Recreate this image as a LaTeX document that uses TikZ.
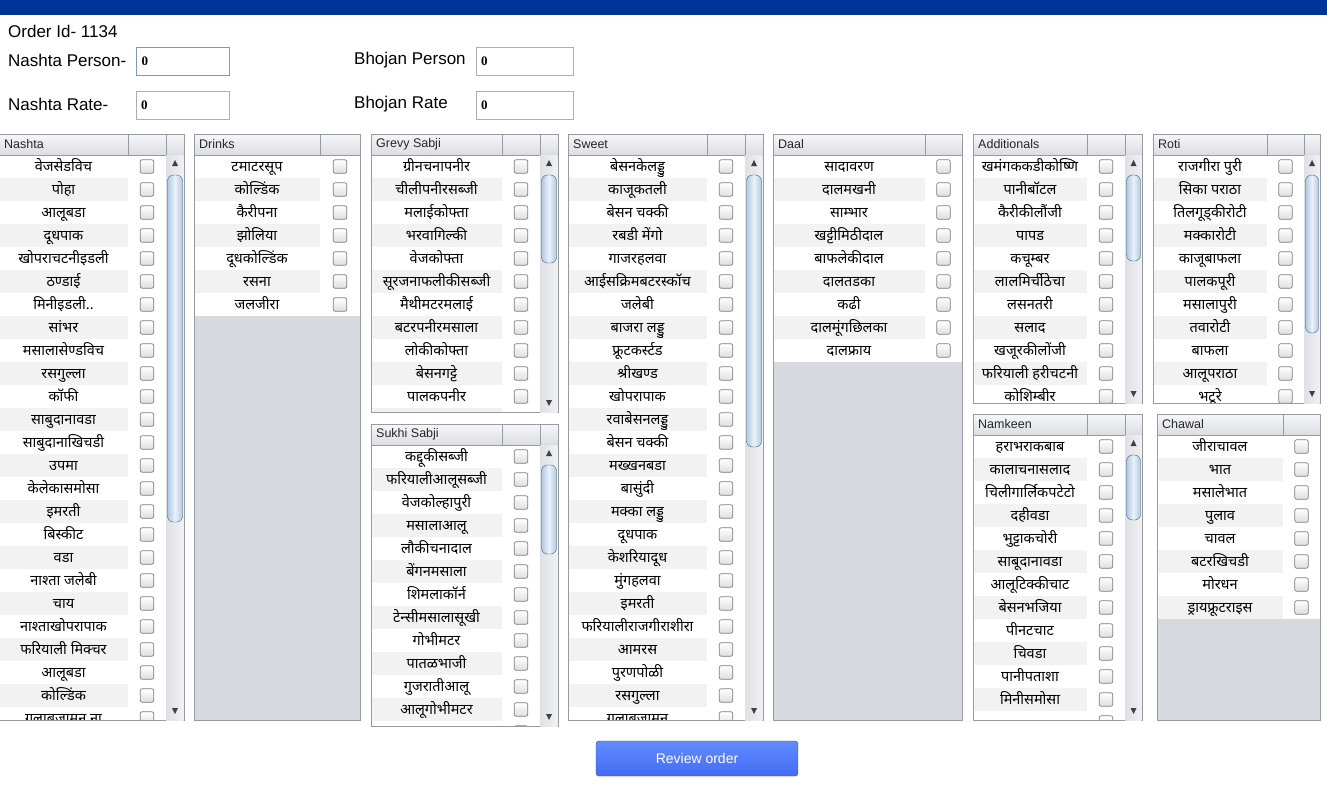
\documentclass[tikz,border=0pt]{standalone}
\usepackage{fontspec}
\setmainfont{Liberation Sans}
\newfontfamily\deva[Script=Devanagari]{Noto Sans}
\newfontfamily\fieldfont{Liberation Serif}
\definecolor{topbar}{RGB}{0,51,153}
\definecolor{panelbg}{RGB}{214,217,223}
\definecolor{stripe}{RGB}{242,242,242}
\definecolor{rulegray}{RGB}{150,155,162}
\definecolor{headA}{RGB}{246,247,249}
\definecolor{headB}{RGB}{219,221,227}
\definecolor{boxline}{RGB}{125,125,125}
\definecolor{boxfill}{RGB}{222,222,222}
\definecolor{trackA}{RGB}{222,224,229}
\definecolor{trackB}{RGB}{240,241,243}
\definecolor{thumbA}{RGB}{176,201,228}
\definecolor{thumbline}{RGB}{70,95,125}
\definecolor{fieldline}{RGB}{170,176,184}
\definecolor{focusline}{RGB}{122,154,196}
\definecolor{buttonA}{RGB}{98,138,255}
\definecolor{buttonB}{RGB}{68,108,245}
\tikzset{
  dish/.style={font=\deva\fontsize{14.5}{14.5}\selectfont, inner sep=0pt, anchor=base},
  tick/.style={draw=boxline, line width=0.7pt, rounded corners=2pt, minimum size=13.5pt, inner sep=0pt, top color=white, bottom color=boxfill},
  header/.style={top color=headA, bottom color=headB},
  rule/.style={draw=rulegray, line width=0.8pt},
  headtext/.style={font=\fontsize{12.5}{12.5}\selectfont, text=black!85, inner sep=0pt, anchor=west},
  formlabel/.style={font=\fontsize{17}{17}\selectfont, inner sep=0pt, anchor=west},
  field/.style={draw=fieldline, fill=white, minimum height=28pt, text width=83pt, inner sep=5pt, align=left, font=\fieldfont\bfseries\fontsize{13}{13}\selectfont, anchor=north west},
  thumb/.style={draw=thumbline, rounded corners=6pt, left color=thumbA, right color=thumbA, middle color=white!75!thumbA},
  button/.style={draw=buttonB!70!black, rounded corners=3pt, minimum width=202pt, minimum height=35pt, top color=buttonA, bottom color=buttonB, text=white, font=\fontsize{14}{14}\selectfont}
}
% #1 name, #2 title, #3 left, #4 text col, #5 check col, #6 right, #7 top, #8 bottom, #9 dishes
\newcommand{\foodpanel}[9]{
  \fill[panelbg] (#3,#7) rectangle (#6,#8);
  \begin{scope}
    \clip (#3,#7) rectangle (#6,#8);
    \foreach \dishname [count=\i] in {#9}{
      \pgfmathsetmacro{\ytop}{#7+21+(\i-1)*23}
      \fill[white] (#3,\ytop) rectangle (#5,\ytop+23);
      \ifodd\i\else\fill[stripe] (#3,\ytop) rectangle (#4,\ytop+23);\fi
      \if\relax\detokenize\expandafter{\dishname}\relax\else
        \node[dish] (#1-\i) at ({(#3+#4)/2},\ytop+16.5) {\dishname};
      \fi
      \node[tick] (#1-box\i) at ({(#4+#5)/2},\ytop+11.5) {};
    }
  \end{scope}
  \shade[header] (#3,#7) rectangle (#6,#7+21);
  \draw[rule] (#3,#7+21) -- (#6,#7+21) (#4,#7) -- (#4,#7+21) (#5,#7) -- (#5,#7+21);
  \node[headtext] (#1-title) at (#3+5,#7+10.5) {#2};
  \draw[rule] (#3,#7) rectangle (#6,#8);
}
% #1 left, #2 right, #3 top, #4 bottom, #5 thumb end
\newcommand{\scrollbar}[5]{
  \shade[left color=trackA, right color=trackB] (#1,#3) rectangle (#2-0.5,#4);
  \draw[thumb] (#1+1.5,#3+20) rectangle (#2-1.5,#5);
  \fill[black!75] ({(#1+#2)/2-3},#3+11) -- ({(#1+#2)/2+3},#3+11) -- ({(#1+#2)/2},#3+5) -- cycle;
  \fill[black!75] ({(#1+#2)/2-3},#4-12) -- ({(#1+#2)/2+3},#4-12) -- ({(#1+#2)/2},#4-6) -- cycle;
}
\begin{document}
\begin{tikzpicture}[x=1pt,y=-1pt]
\useasboundingbox (0,0) rectangle (1327,806);
\fill[white] (0,0) rectangle (1327,806);
\fill[topbar] (0,0) rectangle (1327,15);

\node[formlabel] (orderid) at (8,31) {Order Id- 1134};
\node[formlabel] (nashtaperson) at (8,60) {Nashta Person-};
\node[formlabel] (nashtarate) at (8,104) {Nashta Rate-};
\node[formlabel] (bhojanperson) at (354,60) {Bhojan Person};
\node[formlabel] (bhojanrate) at (354,104) {Bhojan Rate};
\node[field, draw=focusline, line width=1.2pt] (nashtapersonbox) at (136,47) {0};
\node[field] (nashtaratebox) at (136,91) {0};
\node[field, text width=87pt] (bhojanpersonbox) at (476,47) {0};
\node[field, text width=87pt] (bhojanratebox) at (476,91) {0};

\foodpanel{nashta}{Nashta}{-1}{128}{166}{184}{134}{720}{वेजसेडविच, पोहा, आलूबडा, दूधपाक, खोपराचटनीइडली, ठण्डाई, {मिनीइडली..}, सांभर, मसालासेण्डविच, रसगुल्ला, कॉफी, साबुदानावडा, साबुदानाखिचडी, उपमा, केलेकासमोसा, इमरती, बिस्कीट, वडा, नाश्ता जलेबी, चाय, नाश्ताखोपरापाक, फरियाली मिक्चर, आलूबडा, कोल्डिंक, गुलाबजामुन ना}
\scrollbar{166}{184}{155}{720}{522}

\foodpanel{drinks}{Drinks}{194}{320}{360}{360}{134}{720}{टमाटरसूप, कोल्डिंक, कैरीपना, झोलिया, दूधकोल्डिंक, रसना, जलजीरा}

\foodpanel{grevy}{Grevy Sabji}{371}{502}{540}{558}{134}{412}{ग्रीनचनापनीर, चीलीपनीरसब्जी, मलाईकोफ्ता, भरवागिल्की, वेजकोफ्ता, सूरजनाफलीकीसब्जी, मैथीमटरमलाई, बटरपनीरमसाला, लोकीकोफ्ता, बेसनगट्टे, पालकपनीर, {}}
\scrollbar{540}{558}{155}{412}{263}

\foodpanel{sukhi}{Sukhi Sabji}{371}{502}{540}{558}{424}{726}{कद्दूकीसब्जी, फरियालीआलूसब्जी, वेजकोल्हापुरी, मसालाआलू, लौकीचनादाल, बेंगनमसाला, शिमलाकॉर्न, टेन्सीमसालासूखी, गोभीमटर, पातळभाजी, गुजरातीआलू, आलूगोभीमटर, {}}
\scrollbar{540}{558}{445}{726}{554}

\foodpanel{sweet}{Sweet}{568}{707}{745}{763}{134}{720}{बेसनकेलड्डु, काजूकतली, बेसन चक्की, रबडी मेंगो, गाजरहलवा, आईसक्रिमबटरस्कॉच, जलेबी, बाजरा लड्डु, फ्रूटकर्स्टड, श्रीखण्ड, खोपरापाक, रवाबेसनलड्डु, बेसन चक्की, मख्खनबडा, बासुंदी, मक्का लड्डु, दूधपाक, केशरियादूध, मुंगहलवा, इमरती, फरियालीराजगीराशीरा, आमरस, पुरणपोळी, रसगुल्ला, गुलाबजामुन}
\scrollbar{745}{763}{155}{720}{447}

\foodpanel{daal}{Daal}{773}{925}{962}{962}{134}{720}{सादावरण, दालमखनी, साम्भार, खट्टीमिठीदाल, बाफलेकीदाल, दालतडका, कढी, दालमूंगछिलका, दालफ्राय}

\foodpanel{additionals}{Additionals}{973}{1087}{1125}{1142}{134}{403}{खमंगककडीकोष्णि, पानीबॉटल, कैरीकीलौंजी, पापड, कचूम्बर, लालमिर्चीठेचा, लसनतरी, सलाद, खजूरकीलोंजी, फरियाली हरीचटनी, कोशिम्बीर}
\scrollbar{1125}{1142}{155}{403}{261}

\foodpanel{namkeen}{Namkeen}{973}{1087}{1125}{1142}{414}{720}{हराभराकबाब, कालाचनासलाद, चिलीगार्लिकपटेटो, दहीवडा, भुट्टाकचोरी, साबूदानावडा, आलूटिक्कीचाट, बेसनभजिया, पीनटचाट, चिवडा, पानीपताशा, मिनीसमोसा, {}}
\scrollbar{1125}{1142}{435}{720}{520}

\foodpanel{roti}{Roti}{1153}{1267}{1304}{1320}{134}{403}{राजगीरा पुरी, सिका पराठा, तिलगूड्कीरोटी, मक्कारोटी, काजूबाफला, पालकपूरी, मसालापुरी, तवारोटी, बाफला, आलूपराठा, भटूरे}
\scrollbar{1304}{1320}{155}{403}{333}

\foodpanel{chawal}{Chawal}{1157}{1283}{1320}{1320}{414}{720}{जीराचावल, भात, मसालेभात, पुलाव, चावल, बटरखिचडी, मोरधन, ड्रायफ्रूटराइस}

\node[button] (review) at (697,758.5) {Review order};
\end{tikzpicture}
\end{document}
